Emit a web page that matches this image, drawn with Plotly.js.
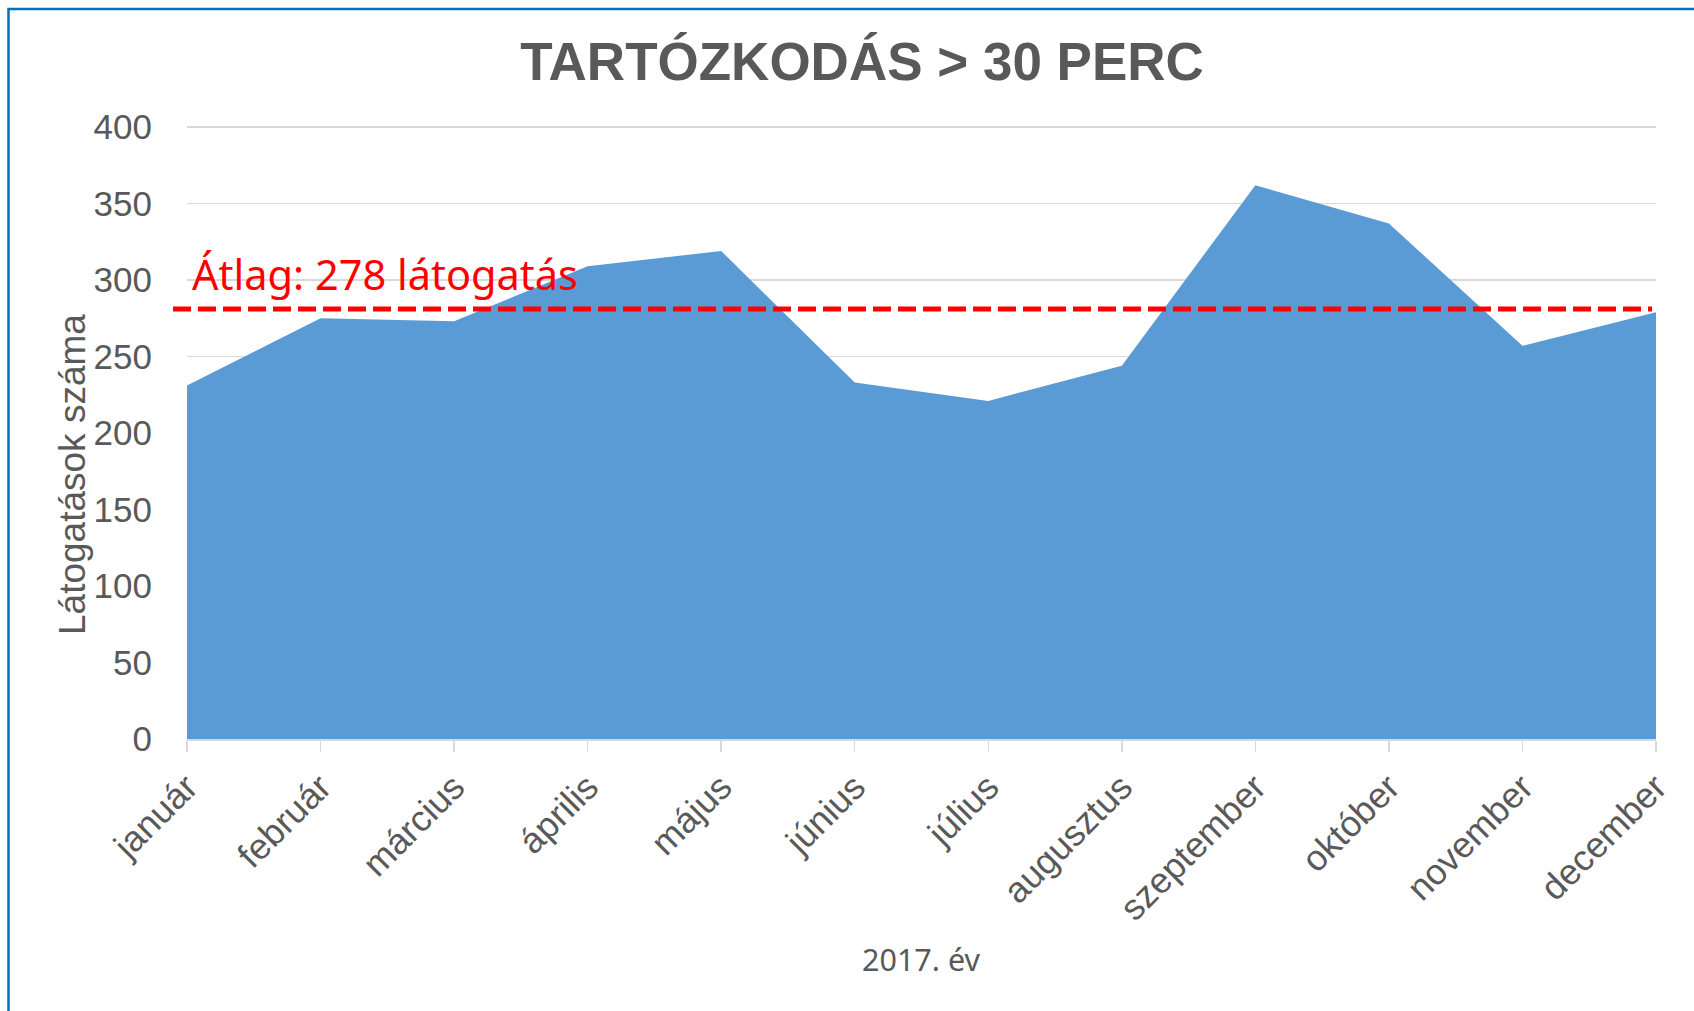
<!DOCTYPE html>
<html>
<head>
<meta charset="utf-8">
<script src="https://cdn.plot.ly/plotly-3.0.1.min.js"></script>
<style>html,body{margin:0;padding:0;background:#fff;}#chart{width:1694px;height:1011px;}</style>
</head>
<body>
<div id="chart"></div>
<script>
const months = ["január","február","március","április","május","június","július","augusztus","szeptember","október","november","december"];
const visits = [231, 275, 273, 309, 319, 233, 221, 244, 362, 337, 257, 279];
const avgLineValue = 281;
const avgLabel = "Átlag: 278 látogatás";
const chartTitle = "TARTÓZKODÁS > 30 PERC";
const yTitle = "Látogatások száma";
const xTitle = "2017. év";
const yTicks = [0, 50, 100, 150, 200, 250, 300, 350, 400];

const W = 1694, H = 1011;
const L = 187, R = 38, T = 124, B = 272;
const PW = W - L - R, PH = H - T - B;
const px = x => (x - L) / PW;
const py = y => (H - B - y) / PH;

const grey = "#595959";

const trace = {
  x: months,
  y: visits,
  type: "scatter",
  mode: "lines",
  fill: "tozeroy",
  fillcolor: "#5B9BD5",
  line: {width: 0, color: "#5B9BD5"},
  hoverinfo: "x+y"
};

const layout = {
  width: W, height: H,
  margin: {l: L, r: R, t: T, b: B, pad: 0},
  paper_bgcolor: "#ffffff",
  plot_bgcolor: "#ffffff",
  showlegend: false,
  title: {
    text: chartTitle,
    font: {family: "Liberation Sans, Arial, sans-serif", size: 53, color: grey, weight: "bold"},
    xref: "container", x: 862 / W, xanchor: "center",
    yref: "container", y: 1 - 61 / H, yanchor: "middle"
  },
  xaxis: {
    type: "category",
    range: [0, months.length - 1],
    showgrid: false,
    showline: true, linecolor: "#d9d9d9", linewidth: 1.5,
    ticks: "outside", ticklen: 11, tickcolor: "#d9d9d9", tickwidth: 1.5,
    tickangle: -45,
    tickfont: {family: "Liberation Sans, Arial, sans-serif", size: 36, color: grey},
    zeroline: false,
    fixedrange: true
  },
  yaxis: {
    range: [0, 402],
    tickvals: yTicks,
    showgrid: true, gridcolor: "#d9d9d9", gridwidth: 1.5,
    zeroline: false,
    showline: false,
    ticks: "",
    ticklabelstandoff: 34,
    tickfont: {family: "Liberation Sans, Arial, sans-serif", size: 35, color: grey},
    fixedrange: true
  },
  shapes: [
    {
      type: "line", xref: "paper", yref: "y",
      x0: px(173), x1: px(1652), y0: avgLineValue, y1: avgLineValue,
      line: {color: "#FF0000", width: 5, dash: "18px,7px"},
      layer: "above"
    },
    {
      type: "rect", xref: "paper", yref: "paper",
      x0: px(8.5), x1: px(1710), y0: py(9), y1: py(1030),
      line: {color: "#0070C0", width: 2.5},
      fillcolor: "rgba(0,0,0,0)",
      layer: "below"
    }
  ],
  annotations: [
    {
      text: avgLabel, showarrow: false,
      xref: "paper", x: px(190), xanchor: "left",
      yref: "paper", y: py(274), yanchor: "middle",
      font: {family: "Noto Sans, Open Sans, sans-serif", size: 41.5, color: "#FF0000"}
    },
    {
      text: yTitle, showarrow: false, textangle: -90,
      xref: "paper", x: px(72), xanchor: "center",
      yref: "paper", y: py(475), yanchor: "middle",
      font: {family: "Liberation Sans, Arial, sans-serif", size: 37, color: grey}
    },
    {
      text: xTitle, showarrow: false,
      xref: "paper", x: px(921), xanchor: "center",
      yref: "paper", y: py(959), yanchor: "middle",
      font: {family: "Noto Sans, Open Sans, sans-serif", size: 30.5, color: grey}
    }
  ]
};

Plotly.newPlot("chart", [trace], layout, {displayModeBar: false, staticPlot: true});
</script>
</body>
</html>
